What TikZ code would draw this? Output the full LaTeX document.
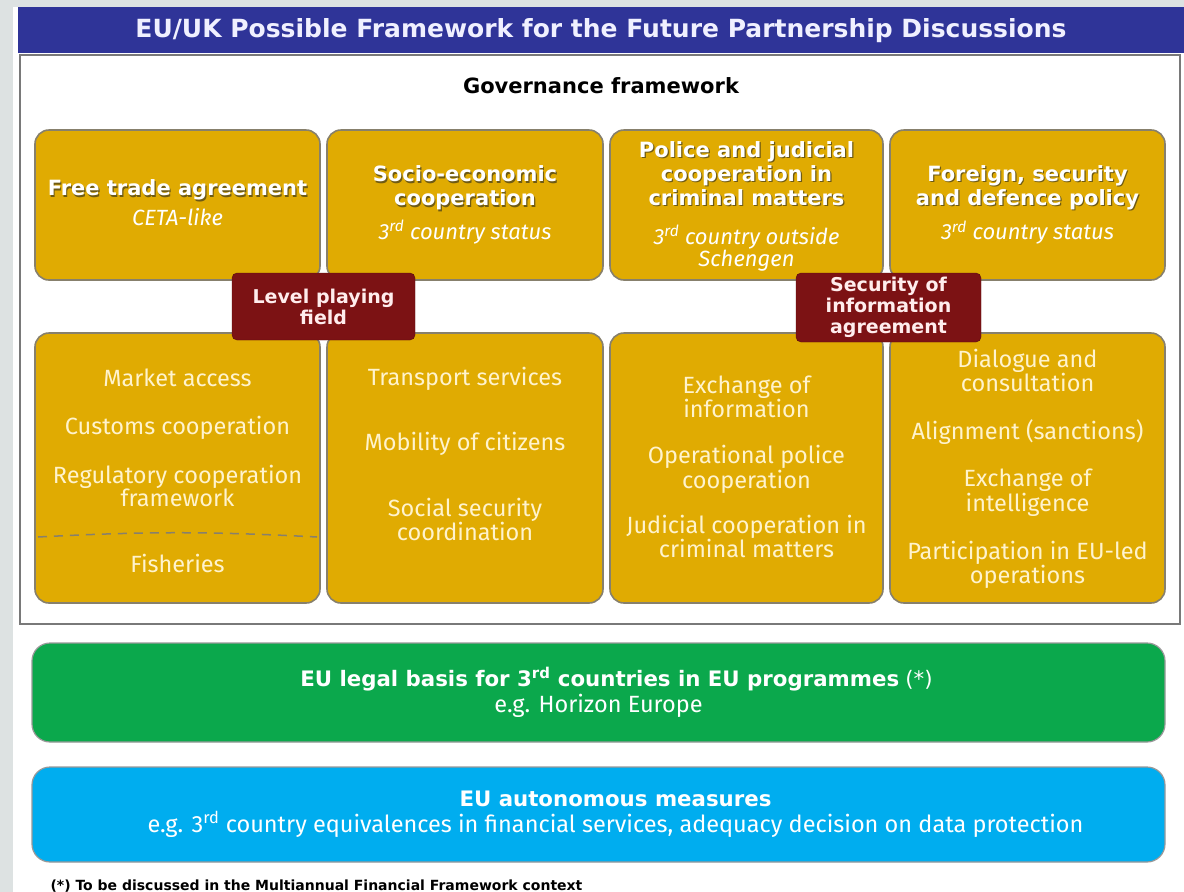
\documentclass[tikz,border=0pt]{standalone}
\usepackage{fontspec}
\setmainfont{Fira Sans}
\newfontfamily\headfont{DejaVu Sans}

\definecolor{pagebg}{RGB}{221,226,226}
\definecolor{titleblue}{RGB}{47,52,152}
\definecolor{gold}{RGB}{224,171,2}
\definecolor{boxline}{RGB}{135,128,108}
\definecolor{darkred}{RGB}{124,18,20}
\definecolor{progreen}{RGB}{11,168,76}
\definecolor{autoblue}{RGB}{0,173,239}
\definecolor{cream}{RGB}{255,243,205}
\definecolor{shadowc}{RGB}{110,90,20}

% white heading text with a small dark drop shadow
\newcommand{\shd}[1]{\makebox[0pt][l]{\raisebox{-1.2pt}{\hspace{1.2pt}\textcolor{shadowc}{#1}}}#1}
\newcommand{\hd}[1]{{\headfont\bfseries\shd{#1}}}
\newcommand{\sub}[1]{{\fontsize{22}{24}\selectfont\itshape #1}}
\newcommand{\rd}{\textsuperscript{rd}}
\newcommand{\bandhead}{\headfont\bfseries\fontsize{21.3}{26}\selectfont}

\tikzset{
  gbox/.style={draw=boxline, line width=1.6pt, fill=gold, rounded corners=14pt, inner sep=0pt},
  head/.style={align=center, text=white, font=\fontsize{21}{24}\selectfont},
  item/.style={align=center, text=cream, font=\fontsize{23.5}{23}\selectfont},
  tag/.style={fill=darkred, draw=darkred!70!black, rounded corners=5pt, inner sep=0pt,
    align=center, text=white!93!red, font=\headfont\bfseries\fontsize{19}{21}\selectfont},
  band/.style={draw=gray!80, line width=1.2pt, rounded corners=18pt, inner sep=0pt, minimum width=1133pt},
  bandtext/.style={align=center, text=white, font=\fontsize{23.5}{26}\selectfont}
}

\begin{document}
\begin{tikzpicture}[x=1pt,y=-1pt]
  \useasboundingbox (0,0) rectangle (1184,892);
  \fill[pagebg] (0,0) rectangle (1184,892);
  \fill[white] (13,7) rectangle (1184,892);

  % title bar and frame
  \fill[titleblue] (18,7) rectangle (1184,53);
  \node[text=white!94!blue, font=\headfont\bfseries\fontsize{25}{28}\selectfont] (title) at (601,31)
    {EU/UK Possible Framework for the Future Partnership Discussions};
  \draw[gray!95!black, line width=2.5pt] (20,55) rectangle (1180,624);
  \node[font=\headfont\bfseries\fontsize{21}{24}\selectfont] (gov) at (601,86) {Governance framework};

  % upper row
  \node[gbox, minimum width=285pt, minimum height=150pt] (fta) at (177.5,205) {};
  \node[gbox, minimum width=276pt, minimum height=150pt] (soc) at (465,205) {};
  \node[gbox, minimum width=273pt, minimum height=150pt] (pol) at (746.5,205) {};
  \node[gbox, minimum width=275pt, minimum height=150pt] (fsd) at (1027.5,205) {};

  \node[head] (ftaT) at (177.5,203) {\hd{Free trade agreement}\\[6pt]\sub{CETA-like}};
  \node[head] (socT) at (465,205) {\hd{Socio-economic}\\\hd{cooperation}\\[8pt]\sub{3\rd\ country status}};
  \node[head] (polT) at (746.5,206) {\hd{Police and judicial}\\\hd{cooperation in}\\\hd{criminal matters}\\[15pt]%
    \sub{3\rd\ country outside}\\[-2pt]\sub{Schengen}};
  \node[head] (fsdT) at (1027.5,205) {\hd{Foreign, security}\\\hd{and defence policy}\\[8pt]\sub{3\rd\ country status}};

  % lower row
  \node[gbox, minimum width=285pt, minimum height=270pt] (fta2) at (177.5,468) {};
  \node[gbox, minimum width=276pt, minimum height=270pt] (soc2) at (465,468) {};
  \node[gbox, minimum width=273pt, minimum height=270pt] (pol2) at (746.5,468) {};
  \node[gbox, minimum width=275pt, minimum height=270pt] (fsd2) at (1027.5,468) {};

  \node[item] (ftaL) at (177.5,438) {Market access\\[25pt]Customs cooperation\\[25pt]Regulatory cooperation\\framework};
  \coordinate (fishL) at (38,537);
  \coordinate (fishR) at (317,537);
  \draw[boxline, line width=1.5pt, dash pattern=on 9pt off 7pt] (fishL) to[bend left=3] (fishR);
  \node[item] (fish) at (177.5,563) {Fisheries};
  \node[item] (socL) at (465,454) {Transport services\\[41pt]Mobility of citizens\\[41pt]Social security\\coordination};
  \node[item] (polL) at (746.5,467) {Exchange of\\information\\[23pt]Operational police\\cooperation\\[21pt]%
    Judicial cooperation in\\criminal matters};
  \node[item] (fsdL) at (1027.5,469) {Dialogue and\\consultation\\[25pt]Alignment (sanctions)\\[24pt]Exchange of\\%
    intelligence\\[24pt]Participation in EU-led\\operations};

  % linking agreements
  \node[tag, minimum width=183pt, minimum height=67pt] (lpf) at (323.5,306.5) {Level playing\\field};
  \node[tag, minimum width=185pt, minimum height=69pt] (soi) at (888.5,307.5) {Security of\\information\\agreement};

  % horizontal bands
  \node[band, fill=progreen, minimum height=99pt] (prog) at (598.5,692.5) {};
  \node[bandtext] (progT) at (598.5,692.5)
    {\hspace*{36pt}{\bandhead EU legal basis for 3\rd\ countries in EU programmes} {\headfont\fontsize{21.3}{26}\selectfont (*)}\\
     e.g. Horizon Europe};
  \node[band, fill=autoblue, minimum height=95pt] (auto) at (598.5,814.5) {};
  \node[bandtext] (autoT) at (615.5,814.5)
    {{\bandhead EU autonomous measures}\\e.g. 3\rd\ country equivalences in financial services, adequacy decision on data protection};

  \node[anchor=base west, font=\headfont\bfseries\fontsize{14}{16}\selectfont] (note) at (47,890)
    {(*) To be discussed in the Multiannual Financial Framework context};
\end{tikzpicture}
\end{document}
